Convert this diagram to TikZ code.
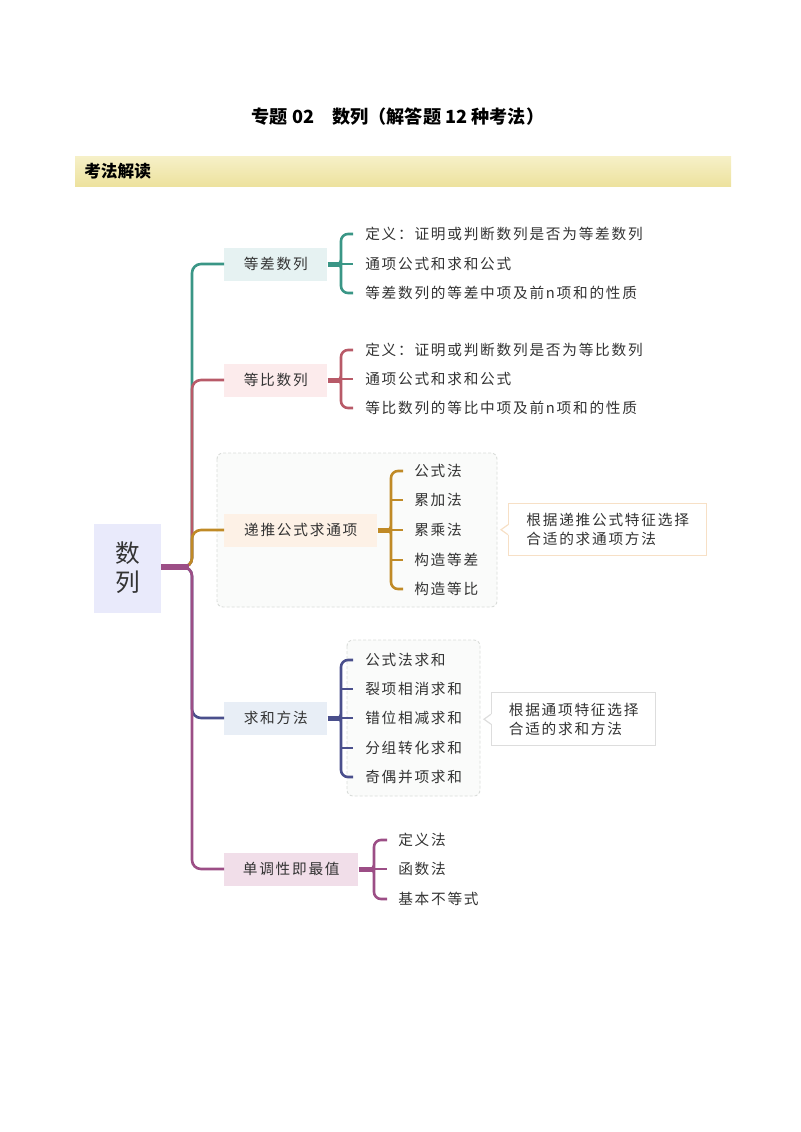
\documentclass[tikz,border=0pt]{standalone}
\usepackage{fontspec}
\newfontfamily\cjk{Noto Sans CJK SC}[LetterSpace=12]
\newfontfamily\cjkt{Noto Sans CJK SC}
\usetikzlibrary{calc}
\definecolor{txtc}{HTML}{333333}
\definecolor{tealc}{HTML}{3A9686}
\definecolor{rosec}{HTML}{B85A68}
\definecolor{goldc}{HTML}{C08A26}
\definecolor{navyc}{HTML}{4A4F8C}
\definecolor{purpc}{HTML}{9C4E86}
\definecolor{tealL}{HTML}{E6F2F2}
\definecolor{roseL}{HTML}{FCEBEC}
\definecolor{goldL}{HTML}{FDF1E6}
\definecolor{navyL}{HTML}{E8EEF6}
\definecolor{purpL}{HTML}{F1DEE9}
\definecolor{rootL}{HTML}{E9EAFB}
\definecolor{grpL}{HTML}{FAFBFA}
\definecolor{grpB}{HTML}{D9DCD9}
\definecolor{c1B}{HTML}{F7E0C6}
\definecolor{c2B}{HTML}{DDDDDD}
\definecolor{banT}{HTML}{F6F0C8}
\definecolor{banB}{HTML}{EDE29E}
\begin{document}
\begin{tikzpicture}[x=0.75pt,y=-0.75pt,
  box/.style={inner sep=0pt, minimum height=33*0.75pt, anchor=west, font=\cjk\fontsize{11}{13}\selectfont, text=txtc},
  leaf/.style={anchor=west, inner sep=0pt, font=\cjk\fontsize{11}{13}\selectfont, text=txtc},
  br/.style={line width=2.6*0.75pt, rounded corners=9*0.75pt},
  brace/.style={line width=2.6*0.75pt, rounded corners=7*0.75pt},
  stub/.style={line width=5*0.75pt},
  grp/.style={draw=grpB, fill=grpL, dashed, dash pattern=on 3*0.75pt off 2*0.75pt, line width=0.9*0.75pt, rounded corners=6*0.75pt},
  callout/.style={anchor=north west, fill=white, line width=1.4*0.75pt, align=left, inner xsep=12pt, font=\cjk\fontsize{11}{14.25}\selectfont, text=txtc}
]
\useasboundingbox (0,0) rectangle (800,1132);

% title and banner
\node[font=\cjkt\bfseries\fontsize{13.6}{16}\selectfont, text=black] (title) at (398,117) {专题 02\hspace{1em}数列（解答题 12 种考法）};
\shade[top color=banT, bottom color=banB] (75,156) rectangle (731,186);
\node[anchor=west, inner sep=0pt, font=\cjkt\bfseries\fontsize{12.5}{15}\selectfont, text=black] (banner) at (84,171) {考法解读};

% group backgrounds
\draw[grp] (217,453) rectangle (497,607);
\draw[grp] (347,640) rectangle (480,796);

% root
\node[fill=rootL, minimum width=67*0.75pt, minimum height=89*0.75pt, inner sep=0pt, align=center, font=\cjkt\fontsize{18.5}{22}\selectfont, text=txtc] (root) at (127.5,568) {数\\列};
\coordinate (J) at (192,567);
\coordinate (J0) at (184,567);

% main boxes
\node[box, fill=tealL, minimum width=103*0.75pt] (dc) at (224,264) {等差数列};
\node[box, fill=roseL, minimum width=103*0.75pt] (db) at (224,380) {等比数列};
\node[box, fill=goldL, minimum width=153*0.75pt] (dt) at (224,530) {递推公式求通项};
\node[box, fill=navyL, minimum width=103*0.75pt] (qh) at (224,718) {求和方法};
\node[box, fill=purpL, minimum width=134*0.75pt] (dd) at (224,869) {单调性即最值};

% branches
\draw[br, tealc] (J0) -- (J) |- (dc.west);
\draw[br, rosec] (J0) -- (J) |- (db.west);
\draw[br, goldc] (J0) -- (J) |- (dt.west);
\draw[br, navyc] (J0) -- (J) |- (qh.west);
\draw[br, purpc] (J0) -- (J) |- (dd.west);
\draw[line width=6*0.75pt, purpc] (root.east |- J) -- (189,567);

% leaves: 等差
\node[leaf] (a1) at (365,234) {定义：证明或判断数列是否为等差数列};
\node[leaf] (a2) at (365,264) {通项公式和求和公式};
\node[leaf] (a3) at (365,293) {等差数列的等差中项及前n项和的性质};
% leaves: 等比
\node[leaf] (b1) at (365,350) {定义：证明或判断数列是否为等比数列};
\node[leaf] (b2) at (365,379) {通项公式和求和公式};
\node[leaf] (b3) at (365,408) {等比数列的等比中项及前n项和的性质};
% leaves: 递推
\node[leaf] (t1) at (414,471) {公式法};
\node[leaf] (t2) at (414,500) {累加法};
\node[leaf] (t3) at (414,530) {累乘法};
\node[leaf] (t4) at (414,560) {构造等差};
\node[leaf] (t5) at (414,589) {构造等比};
% leaves: 求和
\node[leaf] (s1) at (365,660) {公式法求和};
\node[leaf] (s2) at (365,689) {裂项相消求和};
\node[leaf] (s3) at (365,718) {错位相减求和};
\node[leaf] (s4) at (365,748) {分组转化求和};
\node[leaf] (s5) at (365,777) {奇偶并项求和};
% leaves: 单调
\node[leaf] (m1) at (398,840) {定义法};
\node[leaf] (m2) at (398,869) {函数法};
\node[leaf] (m3) at (398,899) {基本不等式};

% braces
% 等差
\draw[stub, tealc] (dc.east) -- (341,264);
\fill[tealc] (341,253) .. controls (341,262) and (338,264) .. (333,264) .. controls (338,264) and (341,266) .. (341,275) -- cycle;
\draw[brace, tealc] ($(a1.west)+(-12,0)$) -- (341,234) -- (341,293) -- ($(a3.west)+(-12,0)$);
\draw[brace, tealc] (341,264) -- ($(a2.west)+(-12,0)$);
% 等比
\draw[stub, rosec] (db.east) -- (341,380);
\fill[rosec] (341,369) .. controls (341,378) and (338,380) .. (333,380) .. controls (338,380) and (341,382) .. (341,391) -- cycle;
\draw[brace, rosec] ($(b1.west)+(-12,0)$) -- (341,350) -- (341,408) -- ($(b3.west)+(-12,0)$);
\draw[brace, rosec] (341,379) -- ($(b2.west)+(-12,0)$);
% 递推
\draw[stub, goldc] (dt.east) -- (391,530);
\fill[goldc] (391,519) .. controls (391,528) and (388,530) .. (383,530) .. controls (388,530) and (391,532) .. (391,541) -- cycle;
\draw[brace, goldc] ($(t1.west)+(-11,0)$) -- (391,471) -- (391,589) -- ($(t5.west)+(-11,0)$);
\foreach \n in {t2,t3,t4} \draw[brace, goldc] (391,0 |- \n.west) -- ($(\n.west)+(-11,0)$);
% 求和
\draw[stub, navyc] (qh.east) -- (341,718);
\fill[navyc] (341,707) .. controls (341,716) and (338,718) .. (333,718) .. controls (338,718) and (341,720) .. (341,729) -- cycle;
\draw[brace, navyc] ($(s1.west)+(-12,0)$) -- (341,660) -- (341,777) -- ($(s5.west)+(-12,0)$);
\foreach \n in {s2,s3,s4} \draw[brace, navyc] (341,0 |- \n.west) -- ($(\n.west)+(-12,0)$);
% 单调
\draw[stub, purpc] (dd.east) -- (374,869);
\fill[purpc] (374,858) .. controls (374,867) and (371,869) .. (366,869) .. controls (371,869) and (374,871) .. (374,880) -- cycle;
\draw[brace, purpc] ($(m1.west)+(-11,0)$) -- (374,840) -- (374,899) -- ($(m3.west)+(-11,0)$);
\draw[brace, purpc] (374,869) -- ($(m2.west)+(-11,0)$);

% callouts
\node[callout, draw=c1B, minimum width=198*0.75pt, minimum height=52*0.75pt] (c1) at (508,503) {根据递推公式特征选择\\合适的求通项方法};
\node[callout, draw=c2B, minimum width=164*0.75pt, minimum height=53*0.75pt] (c2) at (491,692) {根据通项特征选择\\合适的求和方法};
\fill[white] ($(c1.west)+(-0.5,-5)$) rectangle ($(c1.west)+(1,5)$);
\draw[c1B, line width=1.2*0.75pt] ($(c1.west)+(0,-5)$) -- ($(c1.west)+(-7,0)$) -- ($(c1.west)+(0,5)$);
\fill[white] ($(c2.west)+(-0.5,-5)$) rectangle ($(c2.west)+(1,5)$);
\draw[c2B, line width=1.2*0.75pt] ($(c2.west)+(0,-5)$) -- ($(c2.west)+(-7,0)$) -- ($(c2.west)+(0,5)$);
\end{tikzpicture}
\end{document}
